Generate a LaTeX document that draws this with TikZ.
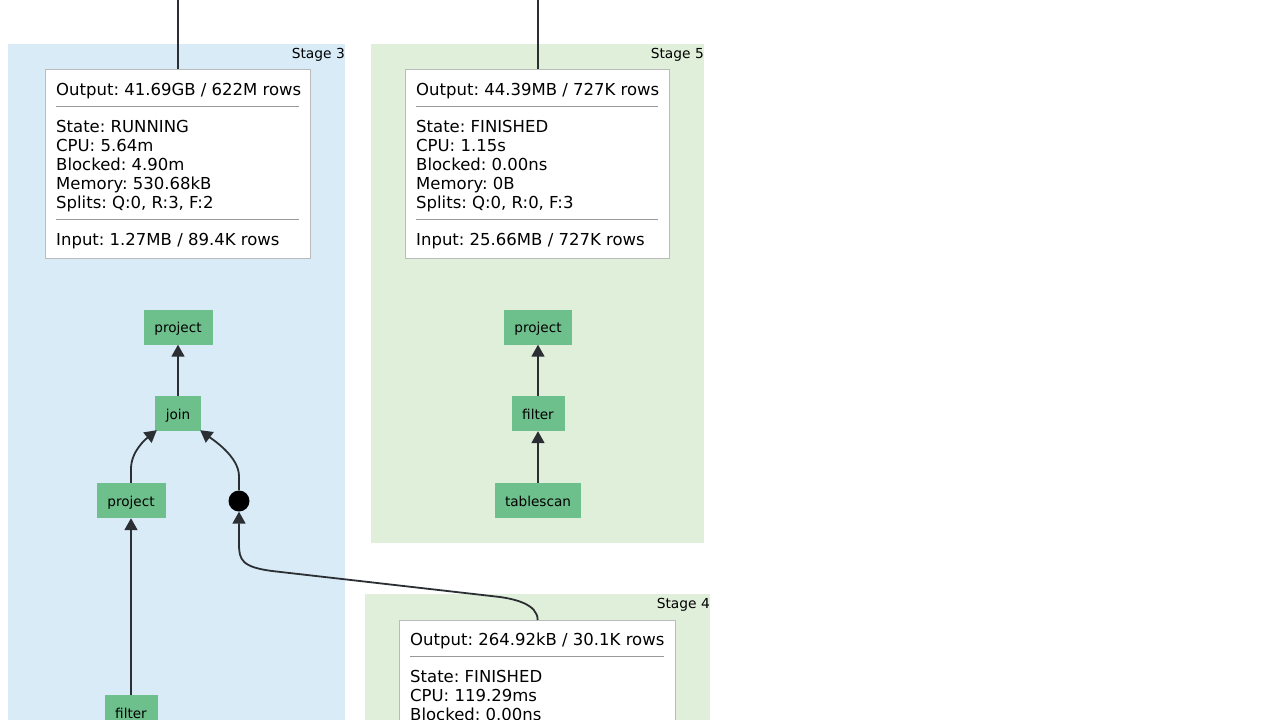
\documentclass[tikz,border=0pt]{standalone}
\usepackage{fontspec}
\setmainfont{DejaVu Sans}
\usetikzlibrary{arrows.meta}
\definecolor{sthreebg}{HTML}{D8EBF7}
\definecolor{sgreenbg}{HTML}{E0EFDA}
\definecolor{opgreen}{HTML}{6DBF8B}
\definecolor{boxgray}{HTML}{BBBBBB}
\definecolor{rulegray}{HTML}{999999}
\definecolor{edgecol}{HTML}{2B2F33}
\frenchspacing
\begin{document}
\begin{tikzpicture}[x=1pt,y=-1pt,
  stagebg/.style={draw=none,inner sep=0pt,anchor=north west},
  stagelabel/.style={inner sep=0pt,anchor=base east,font=\fontsize{13.8}{16}\selectfont},
  statbox/.style={draw=boxgray,fill=white,line width=1.3pt,inner sep=0pt,anchor=north west},
  info/.style={inner sep=0pt,anchor=base west,font=\fontsize{16.5}{19}\selectfont},
  inforule/.style={draw=rulegray,line width=0.9pt},
  op/.style={fill=opgreen,inner sep=0pt,text height=12pt,text depth=1pt,font=\fontsize{13.6}{16}\selectfont},
  edge/.style={draw=edgecol,line width=1.8pt},
  arr/.style={edge,-{Triangle[length=12pt,width=13pt]}}]
\clip (0,0) rectangle (1280,720);
\fill[white] (0,0) rectangle (1280,720);
% stage backgrounds
\node[stagebg,fill=sthreebg,minimum width=337pt,minimum height=720pt] (st3) at (8,44) {};
\node[stagebg,fill=sgreenbg,minimum width=333pt,minimum height=499pt] (st5) at (371,44) {};
\node[stagebg,fill=sgreenbg,minimum width=345pt,minimum height=200pt] (st4) at (365,594) {};
\node[stagelabel] (st3lab) at (345,58) {Stage 3};
\node[stagelabel] (st5lab) at (704,58) {Stage 5};
\node[stagelabel] (st4lab) at (710,608) {Stage 4};
% stat boxes
\node[statbox,minimum width=265pt,minimum height=189pt] (b3) at (45,69) {};
\node[statbox,minimum width=264pt,minimum height=189pt] (b5) at (405,69) {};
\node[statbox,minimum width=276pt,minimum height=189pt] (b4) at (399,620) {};
% incoming lines at top
\coordinate (in3) at (b3.north |- 0,0);
\coordinate (in5) at (b5.north |- 0,0);
\draw[edge] (in3) -- (b3.north);
\draw[edge] (in5) -- (b5.north);
% stage 3 text
\node[info] (b3o) at (56,95) {Output: 41.69GB / 622M rows};
\coordinate (b3r1a) at (56,106); \coordinate (b3r1b) at (299,106);
\draw[inforule] (b3r1a) -- (b3r1b);
\node[info] (b3s) at (56,132) {State: RUNNING};
\node[info] (b3c) at (56,151) {CPU: 5.64m};
\node[info] (b3b) at (56,170) {Blocked: 4.90m};
\node[info] (b3m) at (56,189) {Memory: 530.68kB};
\node[info] (b3p) at (56,208) {Splits: Q:0, R:3, F:2};
\coordinate (b3r2a) at (56,219); \coordinate (b3r2b) at (299,219);
\draw[inforule] (b3r2a) -- (b3r2b);
\node[info] (b3i) at (56,245) {Input: 1.27MB / 89.4K rows};
% stage 5 text
\node[info] (b5o) at (416,95) {Output: 44.39MB / 727K rows};
\coordinate (b5r1a) at (416,106); \coordinate (b5r1b) at (658,106);
\draw[inforule] (b5r1a) -- (b5r1b);
\node[info] (b5s) at (416,132) {State: FINISHED};
\node[info] (b5c) at (416,151) {CPU: 1.15s};
\node[info] (b5b) at (416,170) {Blocked: 0.00ns};
\node[info] (b5m) at (416,189) {Memory: 0B};
\node[info] (b5p) at (416,208) {Splits: Q:0, R:0, F:3};
\coordinate (b5r2a) at (416,219); \coordinate (b5r2b) at (658,219);
\draw[inforule] (b5r2a) -- (b5r2b);
\node[info] (b5i) at (416,245) {Input: 25.66MB / 727K rows};
% stage 4 text
\node[info] (b4o) at (410,645) {Output: 264.92kB / 30.1K rows};
\coordinate (b4r1a) at (410,656); \coordinate (b4r1b) at (664,656);
\draw[inforule] (b4r1a) -- (b4r1b);
\node[info] (b4s) at (410,682) {State: FINISHED};
\node[info] (b4c) at (410,701) {CPU: 119.29ms};
\node[info] (b4b) at (410,720) {Blocked: 0.00ns};
% stage 3 operators
\node[op,minimum width=69pt,minimum height=35pt] (p3a) at (178,327) {project};
\node[op,minimum width=46pt,minimum height=35pt] (j3) at (178,413.5) {join};
\node[op,minimum width=69pt,minimum height=35pt] (p3b) at (131,500.5) {project};
\node[op,minimum width=53pt,minimum height=35pt,anchor=north] (f3) at (131,695) {filter};
\node[circle,fill=black,inner sep=0pt,minimum size=21pt] (dot) at (239,501) {};
% stage 5 operators
\node[op,minimum width=68pt,minimum height=35pt] (p5) at (538,327) {project};
\node[op,minimum width=53pt,minimum height=35pt] (f5) at (538,413.5) {filter};
\node[op,minimum width=86pt,minimum height=35pt] (t5) at (538,500.5) {tablescan};
% stage 3 edges
\draw[arr] (j3.north) -- (p3a.south);
\draw[arr] (p3b.north) -- ++(0,-14) .. controls +(0,-18) and +(-10,8) .. ([xshift=2pt,yshift=1pt]j3.south west);
\draw[arr] (dot.north) -- ++(0,-14) .. controls +(0,-20) and +(12,9) .. ([xshift=-1pt,yshift=1pt]j3.south east);
\draw[arr] (f3.north) -- (p3b.south);
\coordinate (bend1) at (500,597);
\coordinate (bend2) at (272,571);
\draw[arr] (b4.north) .. controls +(0,-16) and +(14,2) .. (bend1) -- (bend2) .. controls +(-30,-4) and +(0,16) .. (239,544) -- (dot.south);
% stage 5 edges
\draw[arr] (f5.north) -- (p5.south);
\draw[arr] (t5.north) -- (f5.south);
\end{tikzpicture}
\end{document}
